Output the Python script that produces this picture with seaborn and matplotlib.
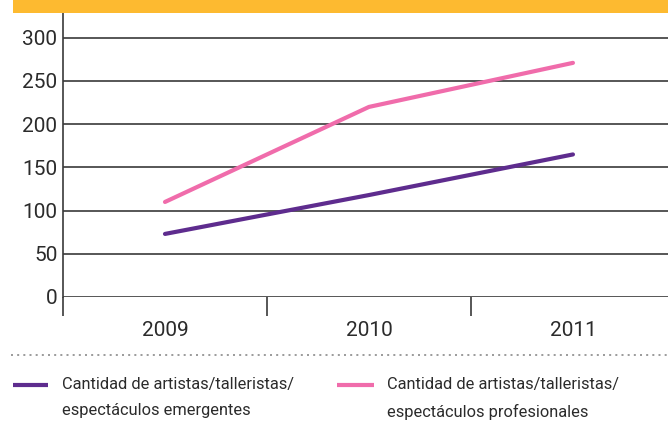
import matplotlib
matplotlib.use("Agg")
import matplotlib.pyplot as plt
from matplotlib.lines import Line2D
from matplotlib.patches import Rectangle
import seaborn as sns
import pandas as pd

years = ["2009", "2010", "2011"]
emergentes = [73, 118, 165]
profesionales = [110, 220, 271]
series_labels = ["Cantidad de artistas/talleristas/\nespectáculos emergentes",
                 "Cantidad de artistas/talleristas/\nespectáculos profesionales"]
yticks = [0, 50, 100, 150, 200, 250, 300]

purple = "#5E2C8E"
pink = "#F06CAB"
yellow = "#FDBA30"
text_c = "#2b2b2b"

sns.set_style("white")
plt.rcParams['font.family'] = ['Roboto', 'DejaVu Sans']

W, H = 668, 441
fig = plt.figure(figsize=(W / 100, H / 100), dpi=100)

def fx(px):
    return px / W

def fy(py):
    return 1 - py / H

ax = fig.add_axes([fx(63), fy(297), 1 - fx(63), fy(13) - fy(297)])

df = pd.DataFrame({
    "x": list(range(len(years))) * 2,
    "value": emergentes + profesionales,
    "serie": [series_labels[0]] * 3 + [series_labels[1]] * 3,
})
sns.lineplot(data=df, x="x", y="value", hue="serie",
             palette=[purple, pink], linewidth=3, legend=False, ax=ax)

ax.set_xlim(-0.5, 2.466)
ax.set_ylim(0, 328.7)
ax.set_yticks(yticks)
ax.yaxis.grid(True, color="#3a3a3a", linewidth=1.2)
ax.set_axisbelow(True)
ax.tick_params(axis="y", left=False, length=0, labelsize=15, labelcolor=text_c, pad=4)

ax.set_xticks([-0.5, 0.5, 1.5])
ax.set_xticklabels([])
ax.set_xticks([0, 1, 2], minor=True)
ax.set_xticklabels(years, minor=True)
ax.tick_params(axis="x", which="major", bottom=True, length=13.7, width=1.2,
               color="#3a3a3a", direction="out")
ax.tick_params(axis="x", which="minor", bottom=True, length=0, labelsize=15,
               labelcolor=text_c, pad=17)
ax.set_xlabel("")
ax.set_ylabel("")

for s in ["top", "right", "bottom"]:
    ax.spines[s].set_visible(False)
ax.spines["left"].set_color("#3a3a3a")
ax.spines["left"].set_linewidth(1.2)

# top yellow band
fig.add_artist(Rectangle((fx(13), fy(13)), 1 - fx(13), fy(0) - fy(13),
                         transform=fig.transFigure, color=yellow, lw=0))

# dotted separator
fig.add_artist(Line2D([fx(11), 1], [fy(355), fy(355)], transform=fig.transFigure,
                      color="#8a8a8a", linestyle=(0, (1.2, 2.5)), linewidth=1.2))

# legend
for (x0, x1, tx), col, lab in zip([(13, 48, 62), (337, 374, 387)], [purple, pink], series_labels):
    fig.add_artist(Line2D([fx(x0), fx(x1)], [fy(385), fy(385)], transform=fig.transFigure,
                          color=col, linewidth=3, solid_capstyle="butt"))
    fig.text(fx(tx), fy(377), lab, ha="left", va="top", fontsize=11.8,
             color=text_c, linespacing=1.9)

fig.savefig("out.png", dpi=100)
